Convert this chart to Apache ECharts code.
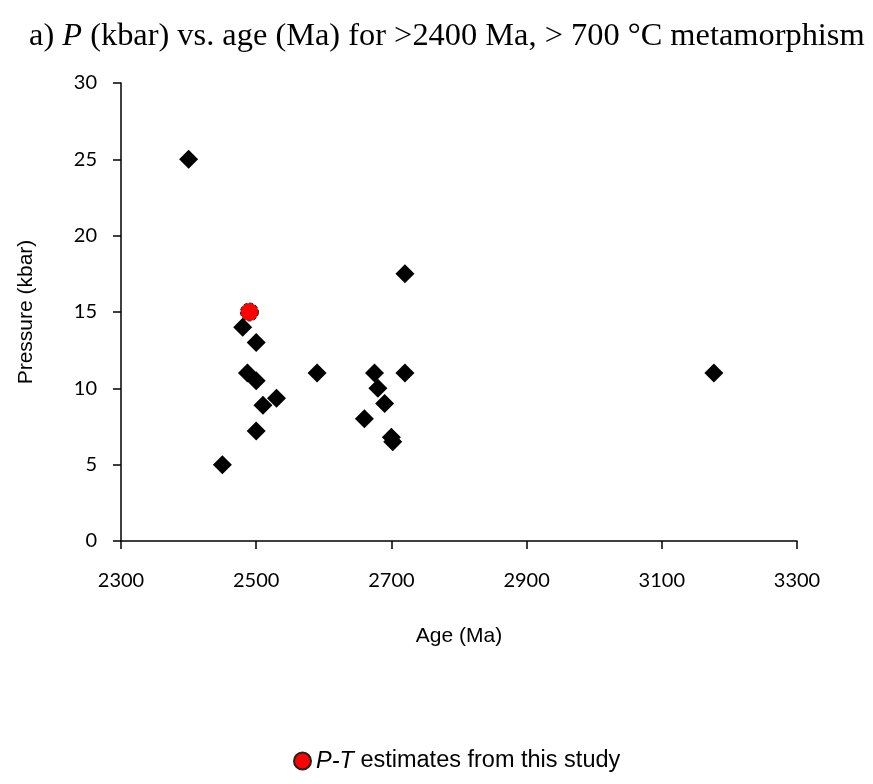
<!DOCTYPE html>
<html>
<head>
<meta charset="utf-8">
<script src="https://cdn.jsdelivr.net/npm/echarts@6/dist/echarts.min.js"></script>
<style>
  html, body { margin: 0; padding: 0; background: #fff; }
  #chart { width: 873px; height: 784px; }
</style>
</head>
<body>
<div id="chart"></div>
<script>
// Compiled metamorphic conditions: age (Ma) and pressure (kbar)
const compiledAge = [2400, 2450, 2480, 2500, 2487, 2500, 2510, 2530, 2500, 2590,
                     2720, 2675, 2720, 2680, 2690, 2660, 2700, 2702, 3177];
const compiledPressure = [25, 5, 14, 13, 11, 10.5, 8.9, 9.35, 7.2, 11,
                          17.5, 11, 11, 10, 9, 8, 6.8, 6.5, 11];

// Estimates from this study
const studyAge = [2490];
const studyPressure = [15];

const xTicks = [2300, 2500, 2700, 2900, 3100, 3300];
const yTicks = [0, 5, 10, 15, 20, 25, 30];

const pairs = (xs, ys) => xs.map((x, i) => [x, ys[i]]);

const chart = echarts.init(document.getElementById('chart'));
chart.setOption({
  animation: false,
  backgroundColor: '#fff',
  title: {
    text: '{n|a) }{i|P}{n| (kbar) vs. age (Ma) for >2400 Ma, > 700 °C metamorphism}',
    left: 24,
    top: 15,
    textStyle: {
      fontWeight: 'normal',
      rich: {
        n: { fontFamily: 'Liberation Serif', fontSize: 32.4, fontWeight: 'normal', color: '#000' },
        i: { fontFamily: 'Liberation Serif', fontSize: 32.4, fontWeight: 'normal', fontStyle: 'italic', color: '#000' }
      }
    }
  },
  grid: { left: 121, right: 76, top: 83, bottom: 243 },
  xAxis: {
    type: 'value',
    min: xTicks[0],
    max: xTicks[xTicks.length - 1],
    interval: 200,
    name: 'Age (Ma)',
    nameLocation: 'middle',
    nameGap: 85,
    nameTextStyle: { fontFamily: 'Liberation Sans', fontSize: 21, color: '#000' },
    axisLine: { show: true, onZero: false, lineStyle: { color: '#000', width: 1.5 } },
    axisTick: { show: true, inside: false, length: 8, lineStyle: { color: '#000', width: 1.5 } },
    axisLabel: { fontFamily: 'Lato', fontSize: 20, color: '#000', margin: 30, formatter: v => String(v) },
    splitLine: { show: false }
  },
  yAxis: {
    type: 'value',
    min: yTicks[0],
    max: yTicks[yTicks.length - 1],
    interval: 5,
    name: 'Pressure (kbar)',
    nameLocation: 'middle',
    nameGap: 84,
    nameRotate: 90,
    nameTextStyle: { fontFamily: 'Liberation Sans', fontSize: 21, color: '#000' },
    axisLine: { show: true, lineStyle: { color: '#000', width: 1.5 } },
    axisTick: { show: true, inside: false, length: 8, lineStyle: { color: '#000', width: 1.5 } },
    axisLabel: { fontFamily: 'Lato', fontSize: 20, color: '#000', margin: 24 },
    splitLine: { show: false }
  },
  legend: {
    data: ['P-T estimates from this study'],
    bottom: 6,
    left: 288,
    itemWidth: 17,
    itemHeight: 17,
    itemGap: 12,
    formatter: () => '{i|P-T}{n| estimates from this study}',
    textStyle: {
      rich: {
        i: { fontFamily: 'Liberation Sans', fontSize: 23.5, fontStyle: 'italic', color: '#000' },
        n: { fontFamily: 'Liberation Sans', fontSize: 23.5, color: '#000' }
      }
    }
  },
  series: [
    {
      name: 'Compiled',
      type: 'scatter',
      symbol: 'diamond',
      symbolSize: 19,
      itemStyle: { color: '#000', opacity: 1 },
      data: pairs(compiledAge, compiledPressure),
      z: 2
    },
    {
      name: 'P-T estimates from this study',
      type: 'scatter',
      symbol: 'circle',
      symbolSize: 18,
      itemStyle: { color: '#ff0000', borderColor: '#222', borderWidth: 1, borderType: 'dashed', opacity: 1 },
      data: pairs(studyAge, studyPressure),
      z: 3
    }
  ]
});
</script>
</body>
</html>
